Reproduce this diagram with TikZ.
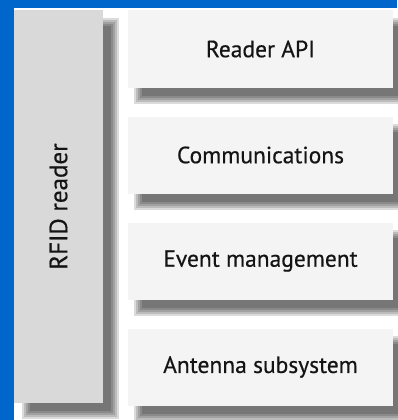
\documentclass[tikz,border=0pt]{standalone}
\usepackage{fontspec}
\newfontfamily\labelfont{PT Sans}[FakeBold=0.45]
\definecolor{frameblue}{RGB}{0,102,204}
\definecolor{sidegray}{RGB}{217,217,217}
\definecolor{layergray}{RGB}{244,244,244}
\definecolor{inkgray}{RGB}{20,20,20}
\tikzset{
  boxtext/.style={font=\labelfont\fontsize{23.5}{26}\selectfont, text=inkgray, inner sep=0pt},
  layerbox/.style={boxtext, fill=layergray, minimum width=265pt, minimum height=77pt},
  sidebox/.style={boxtext, font=\labelfont\fontsize{25}{28}\selectfont, fill=sidegray, minimum width=89pt, minimum height=393pt},
}
% soft drop shadow under a node: #1 node name, #2 x offset, #3 y offset
\newcommand\softshadow[3]{%
  \foreach \k in {0,...,4}{%
    \pgfmathsetmacro\ee{4-2*\k}%
    \fill[black, opacity=0.14]
      ([shift={(#2-\ee,#3-\ee)}]#1.north west) rectangle
      ([shift={(#2+\ee,#3+\ee)}]#1.south east);
  }%
}
\begin{document}
\begin{tikzpicture}[x=1pt,y=-1pt]
  \useasboundingbox (0,0) rectangle (397,420);
  % blue frame and white sheet
  \fill[frameblue] (0,0) rectangle (397,420);
  \fill[white] (14,8) rectangle (397,420);

  % node centres
  \path (58.5,206.5) coordinate (cside)
        (260.5,49) coordinate (c1)
        (260.5,155) coordinate (c2)
        (260.5,261) coordinate (c3)
        (260.5,367) coordinate (c4);

  % invisible placeholders giving the anchors for the shadows
  \node[sidebox, fill=none] (sideph) at (cside) {};
  \foreach \i in {1,...,4} \node[layerbox, fill=none] (ph\i) at (c\i) {};

  \softshadow{sideph}{12}{12}
  \foreach \i in {1,...,4} {\softshadow{ph\i}{10}{12}}

  % the boxes
  \node[sidebox] (reader) at (cside) {\rotatebox{90}{RFID reader}};
  \node[layerbox] (api) at (c1) {Reader API};
  \node[layerbox] (comm) at (c2) {Communications};
  \node[layerbox] (event) at (c3) {Event management};
  \node[layerbox] (antenna) at (c4) {Antenna subsystem};
\end{tikzpicture}
\end{document}
